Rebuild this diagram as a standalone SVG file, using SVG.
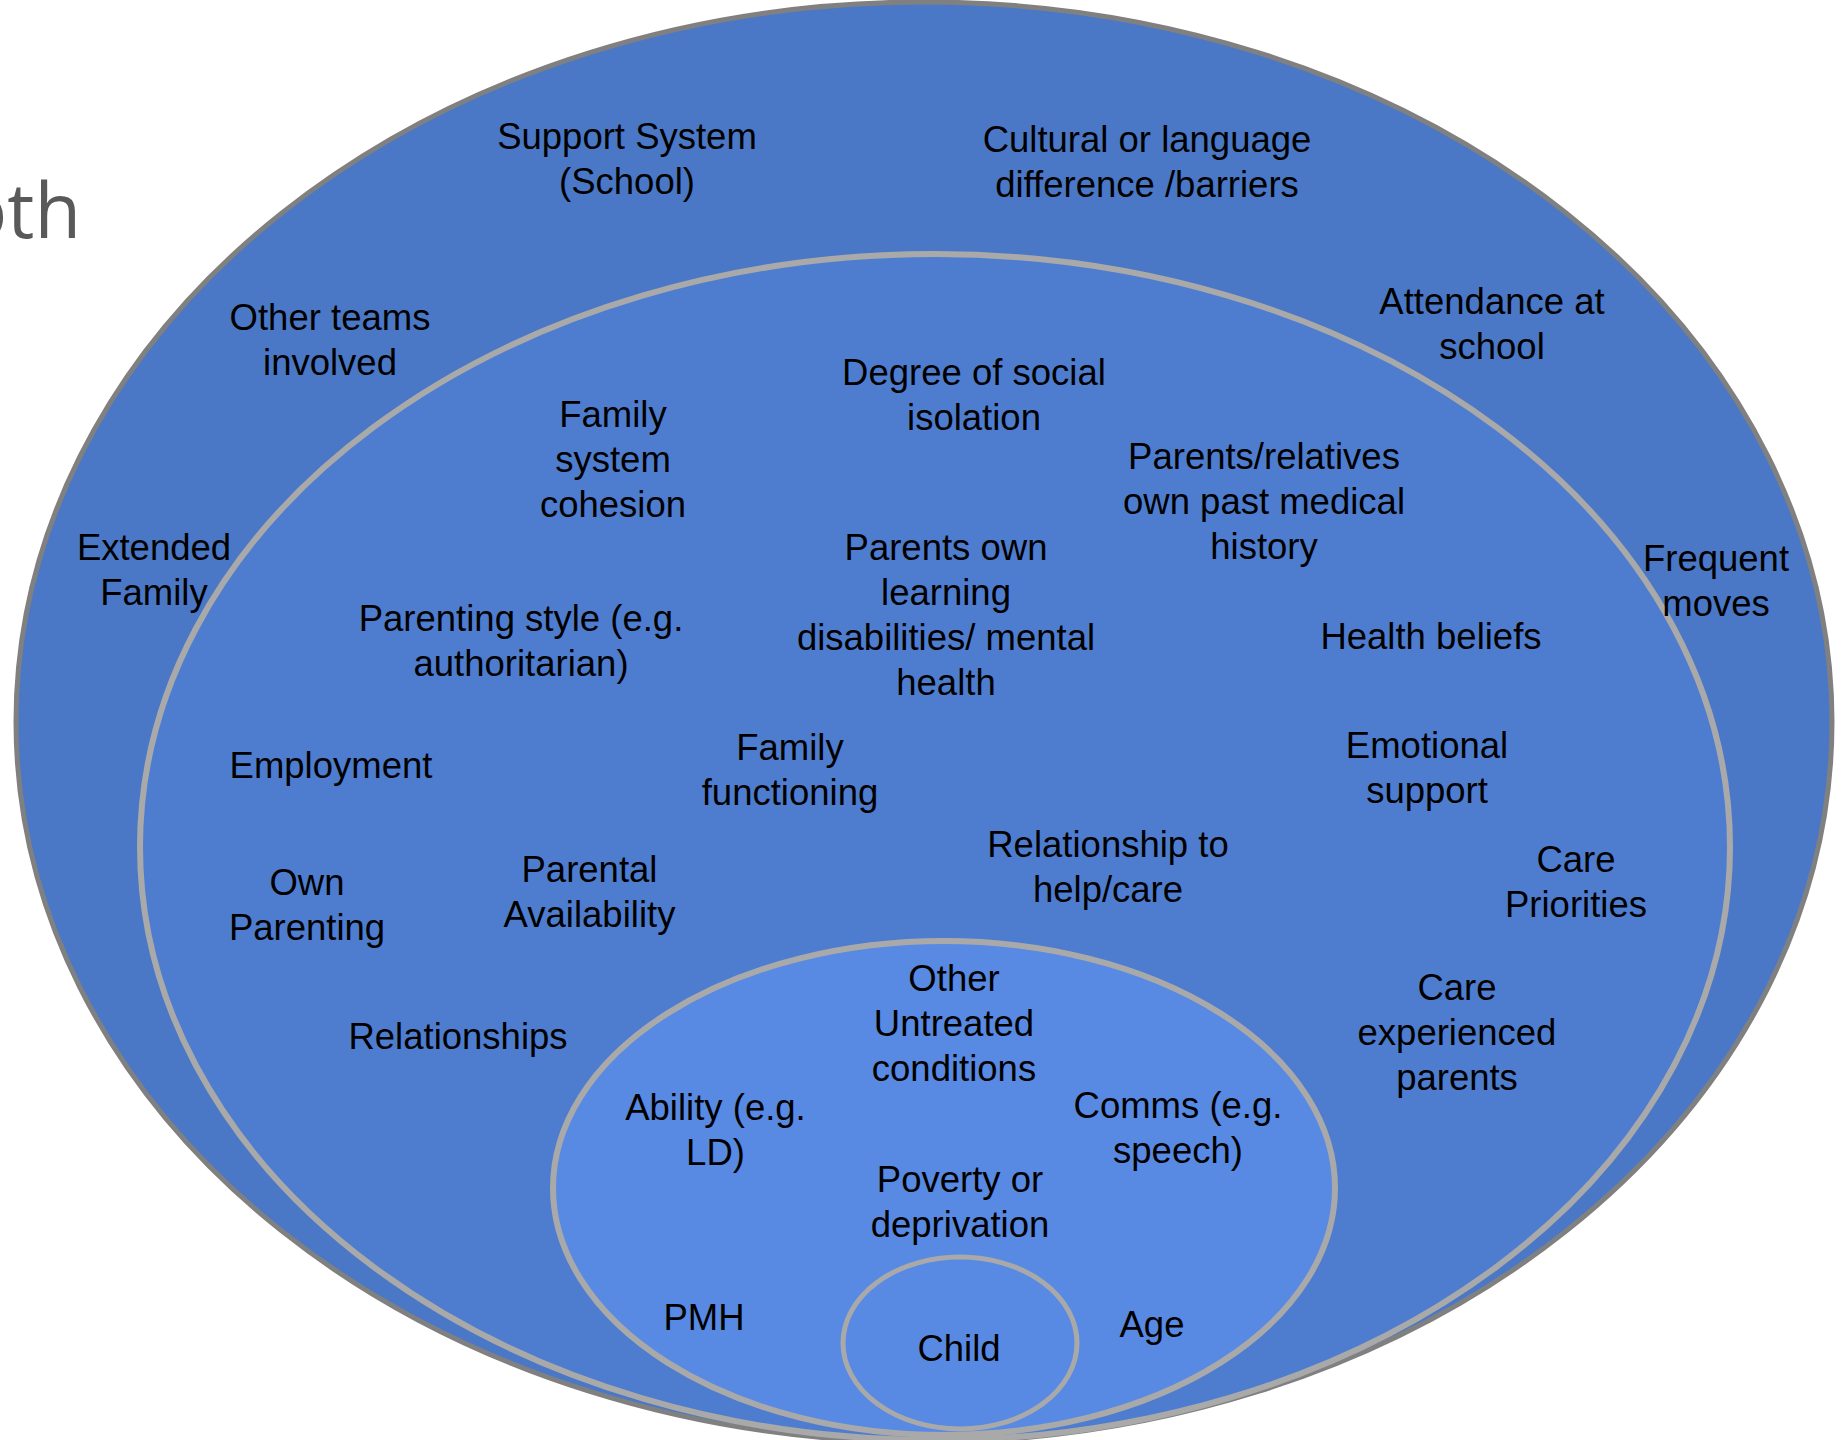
<svg xmlns="http://www.w3.org/2000/svg" width="1845" height="1440" viewBox="0 0 1845 1440">
  <style>
    .lbl { font-family: "Liberation Sans", Arial, sans-serif; font-size: 36.5px; fill: #000000; text-anchor: middle; }
    .ring { stroke-width: 6; }
    .title { font-family: "Open Sans", "Noto Sans", sans-serif; font-size: 76px; fill: #595959; text-anchor: end; }
  </style>
  <rect x="0" y="0" width="1845" height="1440" fill="#ffffff"/>

  <!-- heading fragment at the left edge -->
  <text class="title" x="81" y="238">oth</text>

  <!-- outer ring: wider community -->
  <g id="outer-ring">
    <ellipse cx="924" cy="722" rx="908" ry="720" fill="#4a78c6" stroke="#808080" stroke-width="5"/>
    <text class="lbl" x="627" y="148.5">Support System<tspan x="627" dy="45">(School)</tspan></text>
    <text class="lbl" x="1147" y="152">Cultural or language<tspan x="1147" dy="45">difference /barriers</tspan></text>
    <text class="lbl" x="330" y="330">Other teams<tspan x="330" dy="45">involved</tspan></text>
    <text class="lbl" x="1492" y="314">Attendance at<tspan x="1492" dy="45">school</tspan></text>
    <text class="lbl" x="154" y="560">Extended<tspan x="154" dy="45">Family</tspan></text>
  </g>

  <!-- middle ring: family -->
  <g id="family-ring">
    <ellipse cx="935" cy="847" rx="795" ry="593" fill="#4e7dd0" stroke="#a9a9a9" class="ring"/>
    <text class="lbl" x="974" y="385">Degree of social<tspan x="974" dy="45">isolation</tspan></text>
    <text class="lbl" x="613" y="427">Family<tspan x="613" dy="45">system</tspan><tspan x="613" dy="45">cohesion</tspan></text>
    <text class="lbl" x="1264" y="469">Parents/relatives<tspan x="1264" dy="45">own past medical</tspan><tspan x="1264" dy="45">history</tspan></text>
    <text class="lbl" x="946" y="560">Parents own<tspan x="946" dy="45">learning</tspan><tspan x="946" dy="45">disabilities/ mental</tspan><tspan x="946" dy="45">health</tspan></text>
    <text class="lbl" x="521" y="631">Parenting style (e.g.<tspan x="521" dy="45">authoritarian)</tspan></text>
    <text class="lbl" x="1431" y="649">Health beliefs</text>
    <text class="lbl" x="331" y="778">Employment</text>
    <text class="lbl" x="790" y="760">Family<tspan x="790" dy="45">functioning</tspan></text>
    <text class="lbl" x="1427" y="758">Emotional<tspan x="1427" dy="45">support</tspan></text>
    <text class="lbl" x="1108" y="857">Relationship to<tspan x="1108" dy="45">help/care</tspan></text>
    <text class="lbl" x="1576" y="872">Care<tspan x="1576" dy="45">Priorities</tspan></text>
    <text class="lbl" x="307" y="894.5">Own<tspan x="307" dy="45">Parenting</tspan></text>
    <text class="lbl" x="589.5" y="881.5">Parental<tspan x="589.5" dy="45">Availability</tspan></text>
    <text class="lbl" x="458" y="1049">Relationships</text>
    <text class="lbl" x="1457" y="1000">Care<tspan x="1457" dy="45">experienced</tspan><tspan x="1457" dy="45">parents</tspan></text>
  </g>

  <!-- label that sits across the outer and middle ring edges -->
  <g id="frequent-moves">
    <text class="lbl" x="1716" y="571">Frequent<tspan x="1716" dy="45">moves</tspan></text>
  </g>

  <!-- inner ring: child factors -->
  <g id="child-factors">
    <ellipse cx="944" cy="1188" rx="391" ry="247" fill="#588ae3" stroke="#a9a9a9" class="ring"/>
    <text class="lbl" x="954" y="991">Other<tspan x="954" dy="45">Untreated</tspan><tspan x="954" dy="45">conditions</tspan></text>
    <text class="lbl" x="715.5" y="1120">Ability (e.g.<tspan x="715.5" dy="45">LD)</tspan></text>
    <text class="lbl" x="1178" y="1118">Comms (e.g.<tspan x="1178" dy="45">speech)</tspan></text>
    <text class="lbl" x="960" y="1192">Poverty or<tspan x="960" dy="45">deprivation</tspan></text>
    <text class="lbl" x="704" y="1330">PMH</text>
    <text class="lbl" x="1152" y="1337">Age</text>
  </g>

  <!-- centre: the child -->
  <g id="child">
    <ellipse cx="960" cy="1343" rx="117" ry="86" fill="#588ae3" stroke="#a9a9a9" stroke-width="5"/>
    <text class="lbl" x="959" y="1360.5">Child</text>
  </g>

  <g id="connectors"/>
</svg>
